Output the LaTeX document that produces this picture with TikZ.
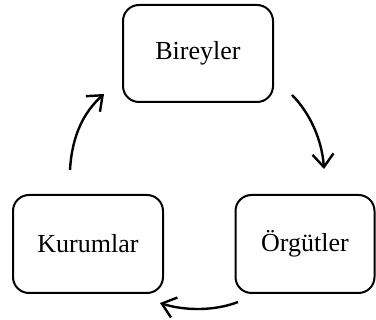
\documentclass[tikz,border=0pt]{standalone}
\usepackage{fontspec}
\setmainfont{Liberation Serif}
\usetikzlibrary{arrows.meta}
\begin{document}
\begin{tikzpicture}[x=1pt,y=-1pt,
  box/.style={draw, line width=2pt, rounded corners=16pt, inner sep=0pt,
    font=\fontsize{26}{30}\selectfont, text=black},
  arr/.style={line width=2.4pt, -{Straight Barb[length=13pt,width=21pt,line width=2.4pt]}}]
\useasboundingbox (0,0) rectangle (376,320);
\node[box, minimum width=150pt, minimum height=97pt] (B) at (198,53.5) {Bireyler};
\node[box, minimum width=150pt, minimum height=98pt] (K) at (88,244) {Kurumlar};
\node[box, minimum width=139pt, minimum height=98pt] (O) at (305,244) {Örgütler};
\coordinate (a1s) at (70,170);
\coordinate (a1e) at (104,94);
\coordinate (a2s) at (292,95);
\coordinate (a2e) at (324,169);
\coordinate (a3s) at (238,302);
\coordinate (a3e) at (160,303);
\draw[arr] (a1s) .. controls (72,135) and (84,112) .. (a1e);
\draw[arr] (a2s) .. controls (310,113) and (322,140) .. (a2e);
\draw[arr] (a3s) .. controls (215,311) and (185,311) .. (a3e);
\end{tikzpicture}
\end{document}
